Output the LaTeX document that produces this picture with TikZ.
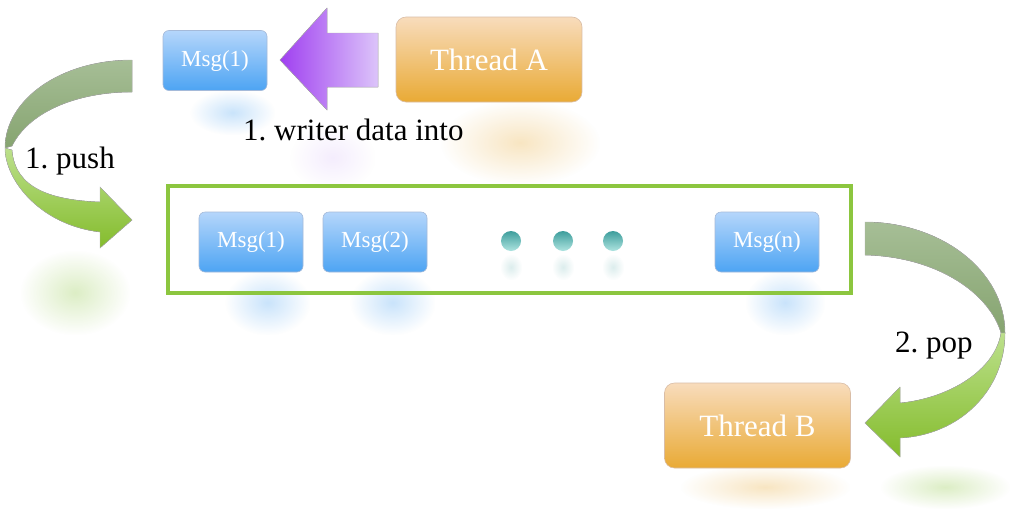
\documentclass[tikz,border=0pt]{standalone}
\usepackage{fontspec}
\setmainfont{Liberation Serif}
\usetikzlibrary{fadings}
\frenchspacing
\tikzfading[name=softout, inner color=transparent!0, outer color=transparent!100]
\definecolor{blueT}{HTML}{B5D6FB}
\definecolor{blueB}{HTML}{4DA4F3}
\definecolor{blueE}{HTML}{7F9CC8}
\definecolor{orT}{HTML}{F8DCBC}
\definecolor{orB}{HTML}{E9AA35}
\definecolor{orE}{HTML}{C8A080}
\definecolor{grn}{HTML}{8CC63F}
\definecolor{grnDark}{HTML}{86A470}
\definecolor{grnDarkT}{HTML}{A6BE96}
\definecolor{grnLight}{HTML}{BCE08C}
\definecolor{grnHead}{HTML}{84BC2C}
\definecolor{purL}{HTML}{A040F0}
\definecolor{purR}{HTML}{DCC4FA}
\definecolor{tealT}{HTML}{3E9E9C}
\definecolor{tealB}{HTML}{AEE4E0}
\tikzset{
  msgbox/.style={rounded corners=6pt, minimum width=104pt, minimum height=60pt,
    top color=blueT, bottom color=blueB, draw=blueE!70, line width=0.6pt,
    text=white, font=\fontsize{23}{25}\selectfont, inner sep=0pt, outer sep=0pt},
  threadbox/.style={rounded corners=10pt, minimum width=186pt, minimum height=85pt,
    top color=orT, bottom color=orB, draw=orE!70, line width=0.6pt,
    text=white, font=\fontsize{31}{34}\selectfont, inner sep=0pt, outer sep=0pt},
  txt/.style={font=\fontsize{31}{34}\selectfont, text=black, inner sep=0pt},
  dotnode/.style={circle, minimum size=20pt, inner sep=0pt, top color=tealT, bottom color=tealB},
  queuebox/.style={draw=grn, line width=3.2pt, minimum width=683pt, minimum height=107pt, inner sep=0pt},
  refl/.style={fill opacity=0.3, path fading=softout},
  arrowedge/.style={draw=black!30, line width=0.4pt}
}
\begin{document}
\begin{tikzpicture}[x=1pt,y=-1pt]
\useasboundingbox (0,0) rectangle (1024,509);
\fill[white] (0,0) rectangle (1024,509);

% faint reflections
\fill[refl, orB] (440,100) rectangle (600,185);
\fill[refl, blueB] (225,270) rectangle (310,335);
\fill[refl, blueB] (350,270) rectangle (435,335);
\fill[refl, blueB] (745,270) rectangle (825,335);
\fill[refl, blueB] (190,90) rectangle (275,135);
\fill[refl, purR] (290,125) rectangle (375,190);
\fill[refl, grn] (20,250) rectangle (130,335);
\fill[refl, orB] (680,465) rectangle (850,509);
\fill[refl, grn] (880,465) rectangle (1010,509);
\foreach \x in {511,563,613} \fill[refl, fill opacity=0.18, tealT] (\x-11,254) rectangle (\x+11,280);

% top: Msg(1), purple arrow, Thread A
\node[msgbox] (m0) at (215,60.5) {Msg(1)};
\node[threadbox] (ta) at (489,59.5) {Thread A};
\filldraw[left color=purL, right color=purR, arrowedge]
  (280,60) -- (327,8) -- (327,33) -- (378,33) -- (378,87) -- (327,87) -- (327,110) -- cycle;
\node[txt, anchor=base west] (lw) at (243,140) {1. writer data into};

% queue
\node[queuebox] (q) at (509.5,239.5) {};
\node[msgbox] (m1) at (251,242) {Msg(1)};
\node[msgbox] (m2) at (375,242) {Msg(2)};
\node[msgbox] (mn) at (767,242) {Msg(n)};
\node[dotnode] (d1) at (511,241) {};
\node[dotnode] (d2) at (563,241) {};
\node[dotnode] (d3) at (613,241) {};

% left curved arrow (push)
\filldraw[top color=grnDarkT, bottom color=grnDark, arrowedge]
  (132,60) .. controls (60,60) and (5,100) .. (5,148)
  -- (12,146) .. controls (30,110) and (80,92) .. (132,92) -- cycle;
\filldraw[top color=grnLight, bottom color=grnHead, arrowedge]
  (5,148) .. controls (5,180) and (40,225) .. (100,232)
  -- (100,248) -- (132,220) -- (100,187) -- (100,202)
  .. controls (50,200) and (15,188) .. (12,150) -- cycle;
\node[txt, anchor=base west] (lp) at (25,168) {1. push};

% right curved arrow (pop)
\filldraw[top color=grnDarkT, bottom color=grnDark, arrowedge]
  (865,222) .. controls (940,222) and (1005,270) .. (1005,333)
  -- (1001,333) .. controls (990,295) and (940,257) .. (865,255) -- cycle;
\filldraw[top color=grnLight, bottom color=grnHead, arrowedge]
  (1005,333) .. controls (1005,390) and (960,435) .. (900,438)
  -- (900,457) -- (865,423) -- (900,387) -- (900,403)
  .. controls (950,398) and (995,370) .. (1001,333) -- cycle;
\node[txt, anchor=base west] (lo) at (895,352) {2. pop};

% Thread B
\node[threadbox] (tb) at (757.5,425.5) {Thread B};
\end{tikzpicture}
\end{document}
